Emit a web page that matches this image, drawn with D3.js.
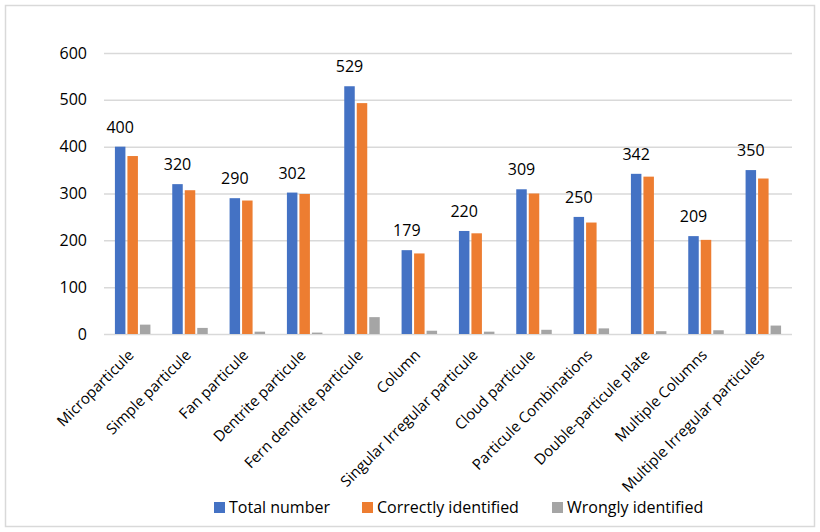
<!DOCTYPE html>
<html>
<head>
<meta charset="utf-8">
<script src="https://cdn.jsdelivr.net/npm/d3@7"></script>
<style>
  body { margin: 0; background: #fff; }
  text { font-family: "Open Sans", sans-serif; fill: #000; }
</style>
</head>
<body>
<script>
// categories and series
var categories = [
  "Microparticule", "Simple particule", "Fan particule", "Dentrite particule",
  "Fern dendrite particule", "Column", "Singular Irregular particule",
  "Cloud particule", "Particule Combinations", "Double-particule plate",
  "Multiple Columns", "Multiple Irregular particules"
];
var totalNumber = [400, 320, 290, 302, 529, 179, 220, 309, 250, 342, 209, 350];
var correctlyIdentified = [380, 307, 285, 299, 493, 172, 215, 300, 238, 336, 201, 332];
var wronglyIdentified = [20, 13, 5, 3, 36, 7, 5, 9, 12, 6, 8, 18];
var seriesNames = ["Total number", "Correctly identified", "Wrongly identified"];
var colors = ["#4472C4", "#ED7D31", "#A5A5A5"];
var yTicks = [0, 100, 200, 300, 400, 500, 600];

var W = 820, H = 532;
var plotL = 104, plotR = 792, plotT = 53, plotB = 334;

var svg = d3.select("body").append("svg")
  .attr("width", W)
  .attr("height", H);

// chart border
svg.append("rect")
  .attr("x", 5.5).attr("y", 5.5)
  .attr("width", 809).attr("height", 521)
  .attr("fill", "#fff")
  .attr("stroke", "#d9d9d9")
  .attr("stroke-width", 1.5);

var x0 = d3.scaleBand().domain(categories).range([plotL, plotR]);
var x1 = d3.scaleBand().domain(seriesNames).range([0, 35.5]).paddingInner(0.16);
var y = d3.scaleLinear().domain([0, 600]).range([plotB, plotT]);

// gridlines + y labels
var yAxis = d3.axisLeft(y)
  .tickValues(yTicks)
  .tickSize(-(plotR - plotL))
  .tickPadding(17);
var gy = svg.append("g")
  .attr("transform", "translate(" + plotL + ",0)")
  .call(yAxis);
gy.select(".domain").remove();
gy.selectAll(".tick line").attr("stroke", "#d9d9d9").attr("stroke-width", 1.5);
gy.selectAll(".tick text")
  .style("font-size", "16px")
  .style("font-family", "'Open Sans', sans-serif")
  .attr("fill", "#000");

var data = categories.map(function(c, i) {
  return { cat: c, vals: [totalNumber[i], correctlyIdentified[i], wronglyIdentified[i]] };
});

var off = (x0.bandwidth() - 35.5) / 2;
var groups = svg.append("g").selectAll("g")
  .data(data)
  .enter().append("g")
  .attr("transform", function(d) { return "translate(" + (x0(d.cat) + off) + ",0)"; });

groups.selectAll("rect")
  .data(function(d) { return d.vals.map(function(v, j) { return { s: seriesNames[j], v: v, j: j }; }); })
  .enter().append("rect")
  .attr("x", function(d) { return x1(d.s); })
  .attr("y", function(d) { return y(d.v); })
  .attr("width", x1.bandwidth())
  .attr("height", function(d) { return plotB - y(d.v); })
  .attr("fill", function(d) { return colors[d.j]; });

// data labels on the totals
groups.append("text")
  .attr("x", function(d) { return x1(seriesNames[0]) + x1.bandwidth() / 2; })
  .attr("y", function(d) { return y(d.vals[0]) - 14; })
  .attr("text-anchor", "middle")
  .style("font-size", "16px")
  .text(function(d) { return d.vals[0]; });

// category labels rotated
svg.append("g").selectAll("text")
  .data(categories)
  .enter().append("text")
  .attr("transform", function(d) {
    return "translate(" + (x0(d) + x0.bandwidth() / 2 + 2) + "," + (plotB + 22) + ") rotate(-45)";
  })
  .attr("text-anchor", "end")
  .style("font-size", "15px")
  .text(function(d) { return d; });

// legend
var legX = [214, 362, 552];
var leg = svg.append("g").selectAll("g")
  .data(seriesNames)
  .enter().append("g")
  .attr("transform", function(d, i) { return "translate(" + legX[i] + ",502)"; });
leg.append("rect")
  .attr("width", 11).attr("height", 11)
  .attr("fill", function(d, i) { return colors[i]; });
leg.append("text")
  .attr("x", 15).attr("y", 11)
  .style("font-size", "16px")
  .text(function(d) { return d; });
</script>
</body>
</html>
